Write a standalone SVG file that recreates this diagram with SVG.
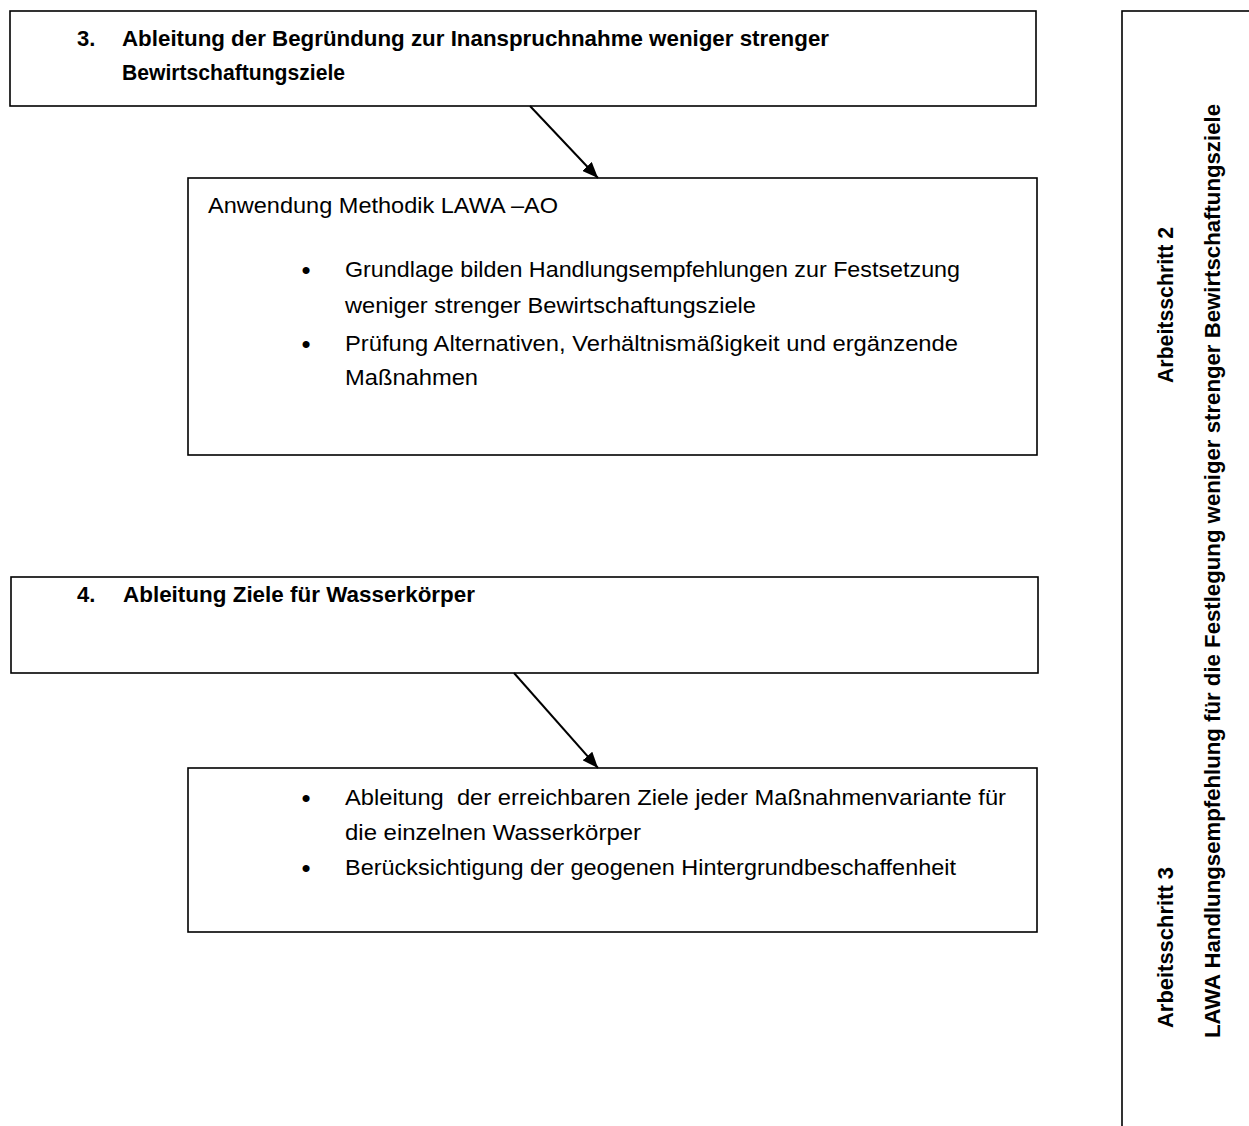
<svg xmlns="http://www.w3.org/2000/svg" width="1249" height="1126" viewBox="0 0 1249 1126">
<style>
.box{fill:#fff;stroke:#000;stroke-width:1.6}
.t{font-family:"Liberation Sans",Arial,sans-serif;font-size:22px;fill:#000}
.b{font-weight:bold}
.bl{font-family:"Liberation Sans",Arial,sans-serif;font-size:26px;fill:#000}
.conn{stroke:#000;stroke-width:2;fill:none}
</style>
<defs>
<marker id="ah" markerUnits="userSpaceOnUse" viewBox="0 0 16 13" refX="16" refY="6.5" markerWidth="16" markerHeight="13" orient="auto">
<path d="M0,0 L16,6.5 L0,13 z" fill="#000"/>
</marker>
</defs>
<rect width="1249" height="1126" fill="#fff"/>
<g id="side">
<rect class="box" x="1122" y="11" width="200" height="1200"/>
<text class="t b" transform="translate(1173,383) rotate(-90)" textLength="156" lengthAdjust="spacingAndGlyphs">Arbeitsschritt 2</text>
<text class="t b" transform="translate(1173,1028) rotate(-90)" textLength="161" lengthAdjust="spacingAndGlyphs">Arbeitsschritt 3</text>
<text class="t b" transform="translate(1220,1038) rotate(-90)" textLength="934" lengthAdjust="spacingAndGlyphs">LAWA Handlungsempfehlung für die Festlegung weniger strenger Bewirtschaftungsziele</text>
</g>
<g id="n3">
<rect class="box" x="10" y="11" width="1026" height="95"/>
<text class="t b" x="77" y="46">3.</text>
<text class="t b" x="122" y="46" textLength="707" lengthAdjust="spacingAndGlyphs">Ableitung der Begründung zur Inanspruchnahme weniger strenger</text>
<text class="t b" x="122" y="80" textLength="223" lengthAdjust="spacingAndGlyphs">Bewirtschaftungsziele</text>
</g>
<g id="n3detail">
<rect class="box" x="188" y="178" width="849" height="277"/>
<text class="t" x="208" y="213" textLength="350" lengthAdjust="spacingAndGlyphs">Anwendung Methodik LAWA –AO</text>
<text class="bl" x="306" y="279" text-anchor="middle">•</text>
<text class="t" x="345" y="277" textLength="615" lengthAdjust="spacingAndGlyphs">Grundlage bilden Handlungsempfehlungen zur Festsetzung</text>
<text class="t" x="345" y="313" textLength="411" lengthAdjust="spacingAndGlyphs">weniger strenger Bewirtschaftungsziele</text>
<text class="bl" x="306" y="353" text-anchor="middle">•</text>
<text class="t" x="345" y="351" textLength="613" lengthAdjust="spacingAndGlyphs">Prüfung Alternativen, Verhältnismäßigkeit und ergänzende</text>
<text class="t" x="345" y="385" textLength="133" lengthAdjust="spacingAndGlyphs">Maßnahmen</text>
</g>
<g id="n4">
<rect class="box" x="11" y="577" width="1027" height="96"/>
<text class="t b" x="77" y="602">4.</text>
<text class="t b" x="123" y="602" textLength="352" lengthAdjust="spacingAndGlyphs">Ableitung Ziele für Wasserkörper</text>
</g>
<g id="n4detail">
<rect class="box" x="188" y="768" width="849" height="164"/>
<text class="bl" x="306" y="807" text-anchor="middle">•</text>
<text class="t" x="345" y="805" xml:space="preserve" textLength="661" lengthAdjust="spacingAndGlyphs">Ableitung  der erreichbaren Ziele jeder Maßnahmenvariante für</text>
<text class="t" x="345" y="840" textLength="296" lengthAdjust="spacingAndGlyphs">die einzelnen Wasserkörper</text>
<text class="bl" x="306" y="877" text-anchor="middle">•</text>
<text class="t" x="345" y="875" textLength="611" lengthAdjust="spacingAndGlyphs">Berücksichtigung der geogenen Hintergrundbeschaffenheit</text>
</g>
<g id="connectors">
<line class="conn" x1="530" y1="106" x2="598" y2="178" marker-end="url(#ah)"/>
<line class="conn" x1="514" y1="673" x2="598" y2="768" marker-end="url(#ah)"/>
</g>
</svg>
